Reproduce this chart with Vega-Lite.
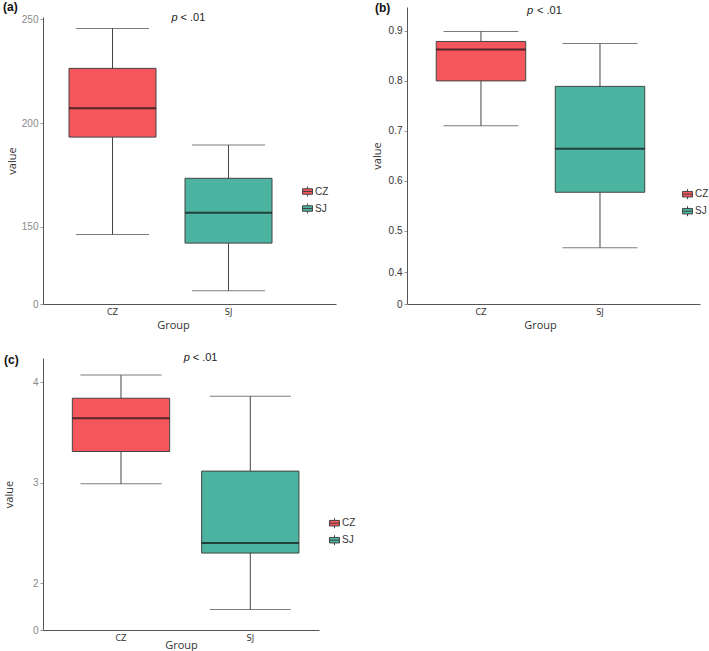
{
  "$schema": "https://vega.github.io/schema/vega-lite/v6.json",
  "padding": {"left": 3, "top": 0, "right": 0, "bottom": 0},
  "background": "white",
  "bounds": "flush",
  "columns": 2,
  "spacing": {"row": 48, "column": 71},
  "datasets": {
    "boxes": [
      {"panel": "a", "group": "CZ", "lower": 146.2, "q1": 193.2, "median": 207.1, "q3": 226.4, "upper": 245.7},
      {"panel": "a", "group": "SJ", "lower": 119.0, "q1": 142.0, "median": 156.7, "q3": 173.3, "upper": 189.4},
      {"panel": "b", "group": "CZ", "lower": 0.710, "q1": 0.800, "median": 0.863, "q3": 0.879, "upper": 0.899},
      {"panel": "b", "group": "SJ", "lower": 0.459, "q1": 0.577, "median": 0.664, "q3": 0.789, "upper": 0.875},
      {"panel": "c", "group": "CZ", "lower": 2.99, "q1": 3.31, "median": 3.64, "q3": 3.84, "upper": 4.07},
      {"panel": "c", "group": "SJ", "lower": 1.74, "q1": 2.30, "median": 2.40, "q3": 3.115, "upper": 3.86}
    ],
    "pnote": [{"t": "p"}],
    "lnote": [{"t": "< .01"}]
  },
  "resolve": {
    "scale": {"x": "independent", "y": "independent", "color": "independent"},
    "axis": {"x": "independent", "y": "independent"},
    "legend": {"color": "independent"}
  },
  "concat": [
    {
      "width": 293,
      "height": 297,
      "title": {"text": "(a)", "anchor": "start", "frame": "group", "dx": -40, "offset": -11.5, "baseline": "middle"},
      "data": {"name": "boxes"},
      "transform": [{"filter": "datum.panel === 'a'"}],
      "encoding": {
        "x": {
          "field": "group", "type": "nominal", "title": "Group",
          "scale": {"domain": ["CZ", "SJ"], "paddingInner": 0.25, "paddingOuter": 0.388, "align": 0.289},
          "axis": {"titleX": 130, "titleY": 21, "titleBaseline": "middle", "labelColor": "#333"}
        }
      },
      "layer": [
        {
          "mark": {"type": "rule", "color": "#444", "strokeWidth": 1},
          "encoding": {
            "y": {"field": "lower", "type": "quantitative", "title": "value",
              "scale": {"domain": [0, 112.6, 251.2], "range": [297, 297, 10], "zero": false, "nice": false},
              "axis": {"values": [0, 150, 200, 250], "format": "~r", "titleX": -31, "labelColor": "#8a8a8a"}},
            "y2": {"field": "upper"}
          }
        },
        {
          "mark": {"type": "tick", "color": "#444", "thickness": 1, "size": 73},
          "encoding": {"y": {"field": "lower", "type": "quantitative", "title": "value"}}
        },
        {
          "mark": {"type": "tick", "color": "#444", "thickness": 1, "size": 73},
          "encoding": {"y": {"field": "upper", "type": "quantitative", "title": "value"}}
        },
        {
          "mark": {"type": "bar", "stroke": "#444", "strokeWidth": 1},
          "encoding": {
            "y": {"field": "q1", "type": "quantitative", "title": "value"},
            "y2": {"field": "q3"},
            "color": {"field": "group", "type": "nominal",
              "scale": {"domain": ["CZ", "SJ"], "range": ["#F4565B", "#4BB39F"]},
              "legend": {"legendX": 259, "legendY": 179}}
          }
        },
        {
          "mark": {"type": "tick", "color": "#111", "thickness": 2, "size": 87},
          "encoding": {"y": {"field": "median", "type": "quantitative", "title": "value"}}
        },
        {
          "data": {"name": "pnote"},
          "mark": {"type": "text", "align": "left", "baseline": "middle", "fontStyle": "italic", "fontSize": 11, "color": "#222", "dx": 59},
          "encoding": {"x": {"datum": "CZ", "type": "nominal"}, "y": {"datum": 250.9, "type": "quantitative"}, "text": {"field": "t"}}
        },
        {
          "data": {"name": "lnote"},
          "mark": {"type": "text", "align": "left", "baseline": "middle", "fontSize": 11, "color": "#222", "dx": 68},
          "encoding": {"x": {"datum": "CZ", "type": "nominal"}, "y": {"datum": 250.9, "type": "quantitative"}, "text": {"field": "t"}}
        }
      ]
    },
    {
      "width": 293,
      "height": 297,
      "title": {"text": "(b)", "anchor": "start", "frame": "group", "dx": -32, "offset": -14.5, "baseline": "middle"},
      "data": {"name": "boxes"},
      "transform": [{"filter": "datum.panel === 'b'"}],
      "encoding": {
        "x": {
          "field": "group", "type": "nominal", "title": "Group",
          "scale": {"domain": ["CZ", "SJ"], "paddingInner": 0.248, "paddingOuter": 0.355, "align": 0.346},
          "axis": {"titleX": 133, "titleY": 21, "titleBaseline": "middle", "labelColor": "#333"}
        }
      },
      "layer": [
        {
          "mark": {"type": "rule", "color": "#444", "strokeWidth": 1},
          "encoding": {
            "y": {"field": "lower", "type": "quantitative", "title": "value",
              "scale": {"domain": [0, 0.4, 0.5, 0.948], "range": [297, 265, 223.7, 0], "zero": false, "nice": false},
              "axis": {"values": [0, 0.4, 0.5, 0.6, 0.7, 0.8, 0.9], "format": "~r", "titleX": -30, "labelColor": "#333"}},
            "y2": {"field": "upper"}
          }
        },
        {
          "mark": {"type": "tick", "color": "#444", "thickness": 1, "size": 75},
          "encoding": {"y": {"field": "lower", "type": "quantitative", "title": "value"}}
        },
        {
          "mark": {"type": "tick", "color": "#444", "thickness": 1, "size": 75},
          "encoding": {"y": {"field": "upper", "type": "quantitative", "title": "value"}}
        },
        {
          "mark": {"type": "bar", "stroke": "#444", "strokeWidth": 1},
          "encoding": {
            "y": {"field": "q1", "type": "quantitative", "title": "value"},
            "y2": {"field": "q3"},
            "color": {"field": "group", "type": "nominal",
              "scale": {"domain": ["CZ", "SJ"], "range": ["#F4565B", "#4BB39F"]},
              "legend": {"legendX": 275, "legendY": 181.7}}
          }
        },
        {
          "mark": {"type": "tick", "color": "#111", "thickness": 2, "size": 89.5},
          "encoding": {"y": {"field": "median", "type": "quantitative", "title": "value"}}
        },
        {
          "data": {"name": "pnote"},
          "mark": {"type": "text", "align": "left", "baseline": "middle", "fontStyle": "italic", "fontSize": 11, "color": "#222", "dx": 46},
          "encoding": {"x": {"datum": "CZ", "type": "nominal"}, "y": {"datum": 0.9394, "type": "quantitative"}, "text": {"field": "t"}}
        },
        {
          "data": {"name": "lnote"},
          "mark": {"type": "text", "align": "left", "baseline": "middle", "fontSize": 11, "color": "#222", "dx": 56},
          "encoding": {"x": {"datum": "CZ", "type": "nominal"}, "y": {"datum": 0.9394, "type": "quantitative"}, "text": {"field": "t"}}
        }
      ]
    },
    {
      "width": 276,
      "height": 278,
      "title": {"text": "(c)", "anchor": "start", "frame": "group", "dx": -39, "offset": -19.5, "baseline": "middle"},
      "data": {"name": "boxes"},
      "transform": [{"filter": "datum.panel === 'c'"}],
      "encoding": {
        "x": {
          "field": "group", "type": "nominal", "title": "Group",
          "scale": {"domain": ["CZ", "SJ"], "paddingInner": 0.2475, "paddingOuter": 0.191, "align": 0.594},
          "axis": {"titleX": 138, "titleY": 15.5, "titleBaseline": "middle", "labelColor": "#333"}
        }
      },
      "layer": [
        {
          "mark": {"type": "rule", "color": "#444", "strokeWidth": 1},
          "encoding": {
            "y": {"field": "lower", "type": "quantitative", "title": "value",
              "scale": {"domain": [0, 1.535, 4.24], "range": [278, 278, 6], "zero": false, "nice": false},
              "axis": {"values": [0, 2, 3, 4], "format": "~r", "titleX": -34, "labelColor": "#8a8a8a"}},
            "y2": {"field": "upper"}
          }
        },
        {
          "mark": {"type": "tick", "color": "#444", "thickness": 1, "size": 81},
          "encoding": {"y": {"field": "lower", "type": "quantitative", "title": "value"}}
        },
        {
          "mark": {"type": "tick", "color": "#444", "thickness": 1, "size": 81},
          "encoding": {"y": {"field": "upper", "type": "quantitative", "title": "value"}}
        },
        {
          "mark": {"type": "bar", "stroke": "#444", "strokeWidth": 1},
          "encoding": {
            "y": {"field": "q1", "type": "quantitative", "title": "value"},
            "y2": {"field": "q3"},
            "color": {"field": "group", "type": "nominal",
              "scale": {"domain": ["CZ", "SJ"], "range": ["#F4565B", "#4BB39F"]},
              "legend": {"legendX": 286, "legendY": 165.7}}
          }
        },
        {
          "mark": {"type": "tick", "color": "#111", "thickness": 2, "size": 97.3},
          "encoding": {"y": {"field": "median", "type": "quantitative", "title": "value"}}
        },
        {
          "data": {"name": "pnote"},
          "mark": {"type": "text", "align": "left", "baseline": "middle", "fontStyle": "italic", "fontSize": 11, "color": "#222", "dx": 62.7},
          "encoding": {"x": {"datum": "CZ", "type": "nominal"}, "y": {"datum": 4.24, "type": "quantitative"}, "text": {"field": "t"}}
        },
        {
          "data": {"name": "lnote"},
          "mark": {"type": "text", "align": "left", "baseline": "middle", "fontSize": 11, "color": "#222", "dx": 71.7},
          "encoding": {"x": {"datum": "CZ", "type": "nominal"}, "y": {"datum": 4.24, "type": "quantitative"}, "text": {"field": "t"}}
        }
      ]
    }
  ],
  "config": {
    "font": "Liberation Sans",
    "view": {"stroke": null},
    "title": {"fontSize": 12, "fontWeight": "bold", "font": "Liberation Sans", "color": "#111"},
    "axis": {
      "grid": false,
      "domainColor": "#555",
      "domainWidth": 1,
      "tickColor": "#999",
      "tickSize": 3,
      "labelFont": "Liberation Sans",
      "labelFontSize": 10,
      "labelPadding": 2,
      "titleFont": "Open Sans",
      "titleFontSize": 11,
      "titleFontWeight": "normal",
      "titleColor": "#333"
    },
    "axisX": {"ticks": false, "labelAngle": 0, "labelFontSize": 9, "labelPadding": 3, "labelFont": "DejaVu Sans Condensed"},
    "axisY": {"titleBaseline": "middle"},
    "legend": {
      "orient": "none",
      "title": null,
      "padding": 0,
      "symbolType": "M-1,-0.55H1V0.55H-1Z M-1,0H1 M0,-0.55V-1 M0,0.55V1",
      "symbolSize": 100,
      "symbolStrokeColor": "#444",
      "symbolStrokeWidth": 1,
      "labelFontSize": 10,
      "labelOffset": 2,
      "rowPadding": 2,
      "labelColor": "#333"
    }
  }
}
